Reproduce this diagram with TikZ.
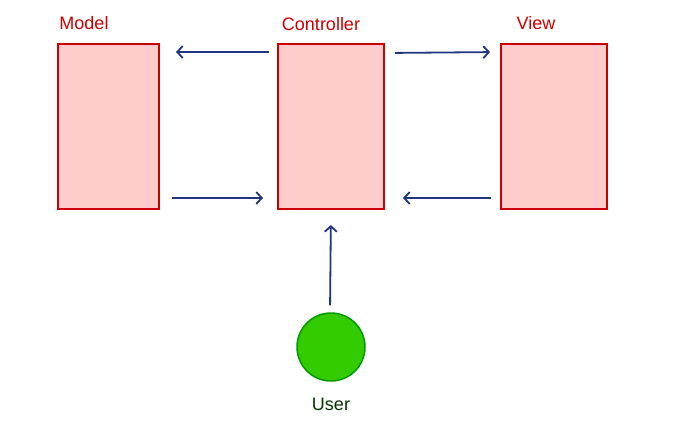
\documentclass[tikz,border=0pt]{standalone}
\usepackage{fontspec}
\setmainfont{Liberation Sans}
\usetikzlibrary{arrows.meta}
\definecolor{boxfill}{HTML}{FFCCCC}
\definecolor{boxline}{HTML}{CC0000}
\definecolor{arr}{HTML}{1F3580}
\definecolor{userfill}{HTML}{33CC00}
\definecolor{userline}{HTML}{009900}
\definecolor{usertext}{HTML}{003300}
\begin{document}
\begin{tikzpicture}[x=1pt,y=-1pt,
  box/.style={draw=boxline,fill=boxfill,line width=2pt,minimum width=101pt,minimum height=165pt,inner sep=0pt},
  lbl/.style={text=boxline,font=\fontsize{18}{21}\selectfont,inner sep=0pt},
  conn/.style={draw=arr,line width=1.8pt,-{Straight Barb[length=5.5pt,width=12pt,line width=1.8pt]}}]
\useasboundingbox (0,0) rectangle (673,432);
\node[box] (model) at (108.5,126.5) {};
\node[box,minimum width=106pt] (ctrl) at (331,126.5) {};
\node[box,minimum width=106pt] (view) at (554,126.5) {};
\node[lbl] (lm) at (84,23) {Model};
\node[lbl] (lc) at (321,24) {Controller};
\node[lbl] (lv) at (536,23) {View};
\node[circle,draw=userline,fill=userfill,line width=1.5pt,minimum size=68pt,inner sep=0pt] (user) at (331,347) {};
\node[text=usertext,font=\fontsize{18}{21}\selectfont,inner sep=0pt] (lu) at (331,404) {User};
\draw[conn,shorten <=8pt,shorten >=16pt] ([yshift=-9pt]ctrl.north west) -- ([yshift=-9pt]model.north east);
\draw[conn,shorten <=12pt,shorten >=14pt] ([yshift=12pt]model.south east) -- ([yshift=12pt]ctrl.south west);
\draw[conn,shorten <=10pt,shorten >=10pt] ([yshift=-10pt]ctrl.north east) -- ([yshift=-9pt]view.north west);
\draw[conn,shorten <=9pt,shorten >=18pt] ([yshift=12pt]view.south west) -- ([yshift=12pt]ctrl.south east);
\draw[conn,shorten <=7pt,shorten >=15pt] ([xshift=-1pt]user.north) -- (ctrl.south);
\end{tikzpicture}
\end{document}
